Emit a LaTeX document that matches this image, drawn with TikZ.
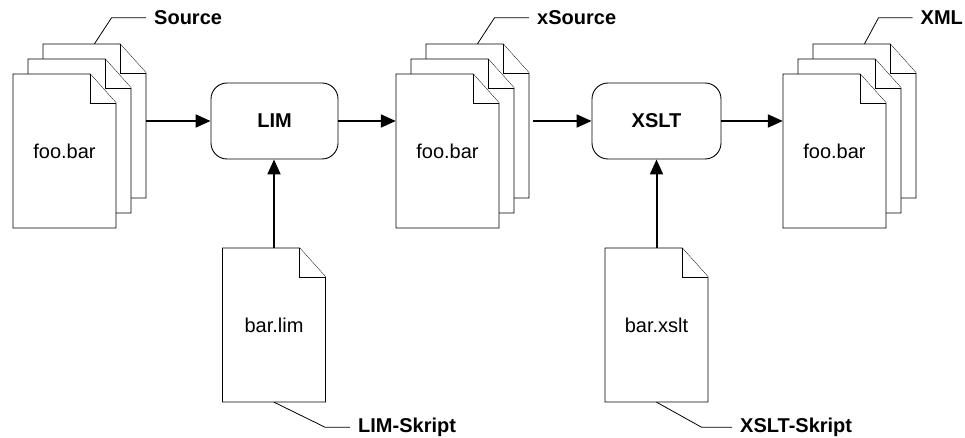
\documentclass[tikz,border=0pt]{standalone}
\usepackage{fontspec}
\setmainfont{Liberation Sans}
\usetikzlibrary{arrows.meta, calc, positioning}

% one sheet of paper with a folded corner, named node on top
\newcommand{\docsheet}[3]{%
  \filldraw[sheet, shift={#2}] (-51.5,-77) -- (25.5,-77) -- (51.5,-48) -- (51.5,77) -- (-51.5,77) -- cycle;
  \draw[sheet, shift={#2}] (25.5,-77) |- (51.5,-48);
  \node[doc] (#1) at #2 {#3};}

\begin{document}
\begin{tikzpicture}[x=1pt, y=-1pt,
    sheet/.style={line width=0.9pt, draw=black, fill=white},
    doc/.style={rectangle, minimum width=103pt, minimum height=154pt, inner sep=0pt, font=\fontsize{20}{24}\selectfont},
    box/.style={draw, line width=0.9pt, rounded corners=16pt, minimum width=127pt, minimum height=76pt, font=\fontsize{20}{24}\selectfont\bfseries},
    flow/.style={line width=2pt, -{Triangle[length=15pt, width=13pt]}},
    tag/.style={inner xsep=8pt, inner ysep=2pt, font=\fontsize{20}{24}\selectfont\bfseries},
    lead/.style={line width=0.8pt}]
    \useasboundingbox (0,0) rectangle (965,438);

    % Source stack
    \docsheet{srcback}{(94.5,121)}{}
    \docsheet{srcmid}{(79.5,136)}{}
    \docsheet{src}{(64.5,151)}{foo.bar}

    % xSource stack
    \docsheet{xsrcback}{(477.5,121)}{}
    \docsheet{xsrcmid}{(462.5,136)}{}
    \docsheet{xsrc}{(447.5,151)}{foo.bar}

    % XML stack
    \docsheet{xmlback}{(864.5,121)}{}
    \docsheet{xmlmid}{(849.5,136)}{}
    \docsheet{xml}{(834.5,151)}{foo.bar}

    % Scripts
    \docsheet{lims}{(274,325)}{bar.lim}
    \docsheet{xslts}{(656.5,325)}{bar.xslt}

    % Processors
    \node[box] (lim) at (274.5,121) {LIM};
    \node[box, minimum width=129pt] (xslt) at (656.5,121) {XSLT};

    % Flow arrows
    \draw[flow] (srcback.east) -- (lim.west);
    \draw[flow] (lim.east) -- (lim.east -| xsrc.west);
    \draw[flow, shorten <=4pt] (xsrcback.east) -- (xslt.west);
    \draw[flow] (xslt.east) -- (xslt.east -| xml.west);
    \draw[flow] (lims.north) -- (lims.north |- lim.south);
    \draw[flow] (xslts.north) -- (xslts.north |- xslt.south);

    % Tags
    \node[tag, anchor=west] (srctag) at ([xshift=51.5pt, yshift=26pt]srcback.north) {Source};
    \node[tag, anchor=west] (xsrctag) at ([xshift=51.5pt, yshift=26pt]xsrcback.north) {xSource};
    \node[tag, anchor=west] (xmltag) at ([xshift=48pt, yshift=26pt]xmlback.north) {XML};
    \node[tag, anchor=west] (limtag) at ([xshift=76pt, yshift=-25pt]lims.south) {LIM-Skript};
    \node[tag, anchor=west] (xslttag) at ([xshift=75.5pt, yshift=-25pt]xslts.south) {XSLT-Skript};
    \draw[lead] (srcback.north) -- ++(17,-26) -- (srctag.west);
    \draw[lead] (xsrcback.north) -- ++(17,-26) -- (xsrctag.west);
    \draw[lead] (xmlback.north) -- ++(14,-26) -- (xmltag.west);
    \draw[lead] (lims.south) -- ++(51,25) -- (limtag.west);
    \draw[lead] (xslts.south) -- ++(45,25) -- (xslttag.west);
\end{tikzpicture}
\end{document}
